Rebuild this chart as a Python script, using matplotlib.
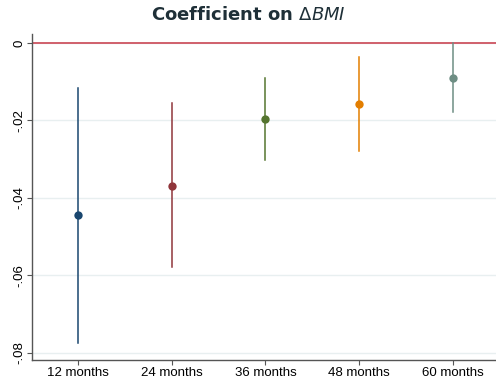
import matplotlib
matplotlib.use("Agg")
import matplotlib.pyplot as plt

categories = ["12 months", "24 months", "36 months", "48 months", "60 months"]
coef = [-0.0443, -0.0368, -0.0196, -0.0157, -0.0090]
ci_low = [-0.0774, -0.0579, -0.0301, -0.0280, -0.0178]
ci_high = [-0.0116, -0.0154, -0.0090, -0.0036, 0.0000]
colors = ["#1a476f", "#90353b", "#55752f", "#e37e00", "#6e8e84"]
yticks = [0, -0.02, -0.04, -0.06, -0.08]
ytick_labels = ["0", "-.02", "-.04", "-.06", "-.08"]

fig = plt.figure(figsize=(4.96, 3.80), dpi=100)
fig.patch.set_facecolor("white")
ax = fig.add_axes([32/496, 20/380, 1 - 32/496, (360-34)/380])
ax.set_facecolor("white")

x = list(range(1, len(categories) + 1))
for xi, c, lo, hi, col in zip(x, coef, ci_low, ci_high, colors):
    ax.plot([xi, xi], [lo, hi], color=col, lw=1.1, zorder=3)
    ax.plot([xi], [c], marker="o", ms=6, color=col, zorder=4, markeredgewidth=0)

ax.axhline(0, color="#d0606c", lw=1.4, zorder=2)

ax.set_xlim(0.51, 5.46)
ax.set_ylim(-0.0818, 0.0023)
ax.set_yticks(yticks)
ax.set_yticklabels(ytick_labels, rotation=90, va="center", fontsize=9.5,
                   family="Liberation Sans")
ax.set_xticks(x)
ax.set_xticklabels(categories, fontsize=9.5, family="Liberation Sans")
ax.yaxis.grid(True, color="#e8eff0", lw=1)
ax.set_axisbelow(True)
for s in ["top", "right"]:
    ax.spines[s].set_visible(False)
for s in ["left", "bottom"]:
    ax.spines[s].set_color("#555555")
    ax.spines[s].set_linewidth(1)
ax.tick_params(axis="both", direction="out", length=3.5, width=0.8, color="#555555", pad=1.5)

fig.suptitle(r"Coefficient on $\Delta BMI$", x=0.5, y=0.985, fontsize=13,
             fontweight="bold", color="#1f3038")

fig.savefig("out.png", dpi=100)
